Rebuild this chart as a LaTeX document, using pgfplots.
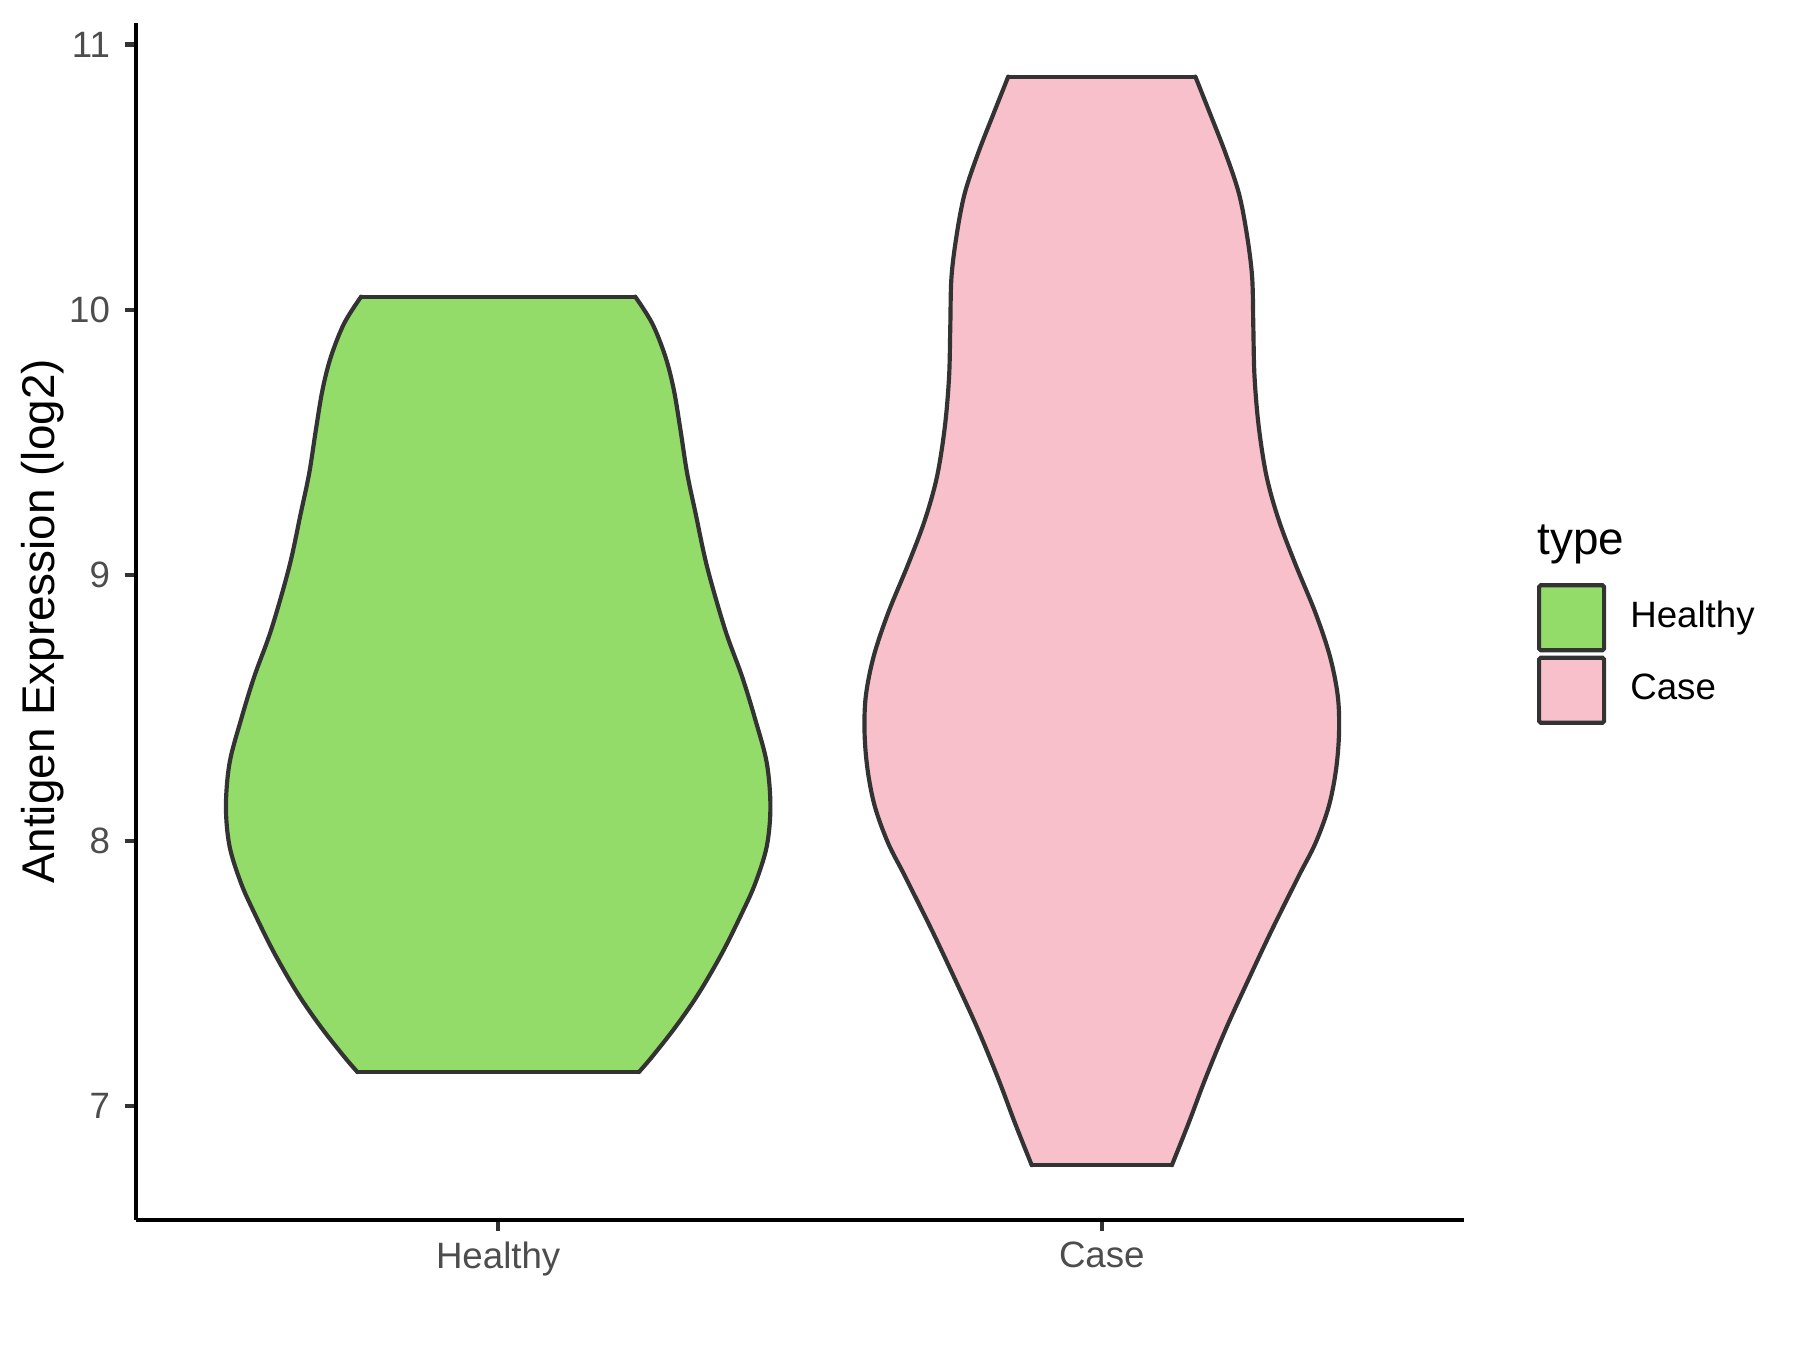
\documentclass[border=0pt]{standalone}
\usepackage{pgfplots}
\usepackage{pgfplotstable}
\pgfplotsset{compat=1.18}
\usepackage{fontspec}
\setmainfont{Liberation Sans}
\definecolor{vgreen}{RGB}{147,220,106}
\definecolor{vpink}{RGB}{247,192,203}
\definecolor{gtwenty}{RGB}{51,51,51}
\definecolor{gthirty}{RGB}{77,77,77}
\pgfplotsset{outl/.style={draw=gtwenty, line width=1pt, line cap=round, line join=round, forget plot},
  sfill/.style={draw=none, smooth, tension=0.55, forget plot}}
% Healthy: right side (top to bottom), left side (bottom to top)
\pgfplotstableread{
x y
1.227 10.050
1.255 9.950
1.277 9.824
1.291 9.699
1.302 9.548
1.313 9.385
1.327 9.234
1.346 9.033
1.376 8.795
1.404 8.619
1.426 8.456
1.445 8.293
1.451 8.129
1.445 7.979
1.426 7.840
1.404 7.728
1.371 7.577
1.332 7.424
1.294 7.299
1.255 7.186
1.233 7.128
}\healthyR
\pgfplotstableread{
x y
0.767 7.128
0.745 7.186
0.706 7.299
0.668 7.424
0.629 7.577
0.596 7.728
0.574 7.840
0.555 7.979
0.549 8.129
0.555 8.293
0.574 8.456
0.596 8.619
0.624 8.795
0.654 9.033
0.673 9.234
0.687 9.385
0.698 9.548
0.709 9.699
0.723 9.824
0.745 9.950
0.773 10.050
}\healthyL
% Case: right side (top to bottom), left side (bottom to top)
\pgfplotstableread{
x y
2.155 10.879
2.177 10.753
2.205 10.590
2.227 10.440
2.240 10.289
2.249 10.125
2.251 9.937
2.253 9.749
2.260 9.560
2.273 9.372
2.293 9.209
2.320 9.046
2.354 8.858
2.378 8.694
2.391 8.544
2.393 8.406
2.388 8.267
2.376 8.129
2.354 7.991
2.326 7.866
2.282 7.665
2.243 7.477
2.205 7.288
2.171 7.100
2.144 6.937
2.116 6.777
}\caseR
\pgfplotstableread{
x y
1.884 6.777
1.856 6.937
1.829 7.100
1.795 7.288
1.757 7.477
1.718 7.665
1.674 7.866
1.646 7.991
1.624 8.129
1.612 8.267
1.607 8.406
1.609 8.544
1.622 8.694
1.646 8.858
1.680 9.046
1.707 9.209
1.727 9.372
1.740 9.560
1.747 9.749
1.749 9.937
1.751 10.125
1.760 10.289
1.773 10.440
1.795 10.590
1.823 10.753
1.845 10.879
}\caseL
\begin{document}
\begin{tikzpicture}
\path[use as bounding box] (-32.64pt,-31.2pt) rectangle (399.36pt,292.8pt);
\begin{axis}[
  scale only axis,
  width=318.72pt, height=287.28pt,
  xmin=0.4, xmax=2.6, ymin=6.571, ymax=11.081,
  clip=false,
  axis x line*=bottom, axis y line*=left,
  axis line style={black, line width=1pt},
  xtick={1,2}, xticklabels={Healthy,Case},
  ytick={7,8,9,10,11},
  tick align=outside,
  major tick length=2.7pt,
  tick style={gtwenty, line width=1pt},
  /pgf/number format/assume math mode=true,
  tick label style={font=\fontsize{8.8}{10}\selectfont, text=gthirty},
  xticklabel style={yshift=1pt},
  ylabel={Antigen Expression (log2)},
  ylabel style={font=\fontsize{11}{13}\selectfont, at={(axis description cs:-0.0704,0.5)}, anchor=center},
  legend style={at={(rel axis cs:1.055,0.532)}, anchor=north west, draw=none, fill=none, inner sep=0pt, outer sep=0pt,
    row sep=0.8pt, font=\fontsize{8.8}{10}\selectfont,
    nodes={inner sep=0pt, outer sep=0pt},
    /tikz/every odd column/.append style={column sep=5.8pt}},
  legend cell align=left,
]
% ---- Healthy fill: polygon through all points, plus the smooth bulges of each side
\addplot[fill=vgreen, draw=none, legend image code/.code={\draw[fill=vgreen, draw=gtwenty, line width=1pt, rounded corners=0.4pt] (0pt,-7.8pt) rectangle (15.6pt,7.8pt);}] coordinates {
(1.227,10.050) (1.255,9.950) (1.277,9.824) (1.291,9.699) (1.302,9.548) (1.313,9.385) (1.327,9.234) (1.346,9.033) (1.376,8.795) (1.404,8.619) (1.426,8.456) (1.445,8.293) (1.451,8.129) (1.445,7.979) (1.426,7.840) (1.404,7.728) (1.371,7.577) (1.332,7.424) (1.294,7.299) (1.255,7.186) (1.233,7.128)
(0.767,7.128) (0.745,7.186) (0.706,7.299) (0.668,7.424) (0.629,7.577) (0.596,7.728) (0.574,7.840) (0.555,7.979) (0.549,8.129) (0.555,8.293) (0.574,8.456) (0.596,8.619) (0.624,8.795) (0.654,9.033) (0.673,9.234) (0.687,9.385) (0.698,9.548) (0.709,9.699) (0.723,9.824) (0.745,9.950) (0.773,10.050)
} -- cycle;
\addlegendentry{Healthy}
\addplot[sfill, fill=vgreen] table {\healthyR} -- cycle;
\addplot[sfill, fill=vgreen] table {\healthyL} -- cycle;
% ---- Case fill
\addplot[fill=vpink, draw=none, legend image code/.code={\draw[fill=vpink, draw=gtwenty, line width=1pt, rounded corners=0.4pt] (0pt,-7.8pt) rectangle (15.6pt,7.8pt);}] coordinates {
(2.155,10.879) (2.177,10.753) (2.205,10.590) (2.227,10.440) (2.240,10.289) (2.249,10.125) (2.251,9.937) (2.253,9.749) (2.260,9.560) (2.273,9.372) (2.293,9.209) (2.320,9.046) (2.354,8.858) (2.378,8.694) (2.391,8.544) (2.393,8.406) (2.388,8.267) (2.376,8.129) (2.354,7.991) (2.326,7.866) (2.282,7.665) (2.243,7.477) (2.205,7.288) (2.171,7.100) (2.144,6.937) (2.116,6.777)
(1.884,6.777) (1.856,6.937) (1.829,7.100) (1.795,7.288) (1.757,7.477) (1.718,7.665) (1.674,7.866) (1.646,7.991) (1.624,8.129) (1.612,8.267) (1.607,8.406) (1.609,8.544) (1.622,8.694) (1.646,8.858) (1.680,9.046) (1.707,9.209) (1.727,9.372) (1.740,9.560) (1.747,9.749) (1.749,9.937) (1.751,10.125) (1.760,10.289) (1.773,10.440) (1.795,10.590) (1.823,10.753) (1.845,10.879)
} -- cycle;
\addlegendentry{Case}
\addplot[sfill, fill=vpink] table {\caseR} -- cycle;
\addplot[sfill, fill=vpink] table {\caseL} -- cycle;
% ---- outlines
\addplot[outl, smooth, tension=0.55] table {\healthyR};
\addplot[outl, smooth, tension=0.55] table {\healthyL};
\addplot[outl] coordinates {(0.773,10.050) (1.227,10.050)};
\addplot[outl] coordinates {(0.767,7.128) (1.233,7.128)};
\addplot[outl, smooth, tension=0.55] table {\caseR};
\addplot[outl, smooth, tension=0.55] table {\caseL};
\addplot[outl] coordinates {(1.845,10.879) (2.155,10.879)};
\addplot[outl] coordinates {(1.884,6.777) (2.116,6.777)};
\node[anchor=base west, inner sep=0pt, font=\fontsize{11}{13}\selectfont] at (rel axis cs:1.055,0.5556) {type};
\end{axis}
\end{tikzpicture}
\end{document}
